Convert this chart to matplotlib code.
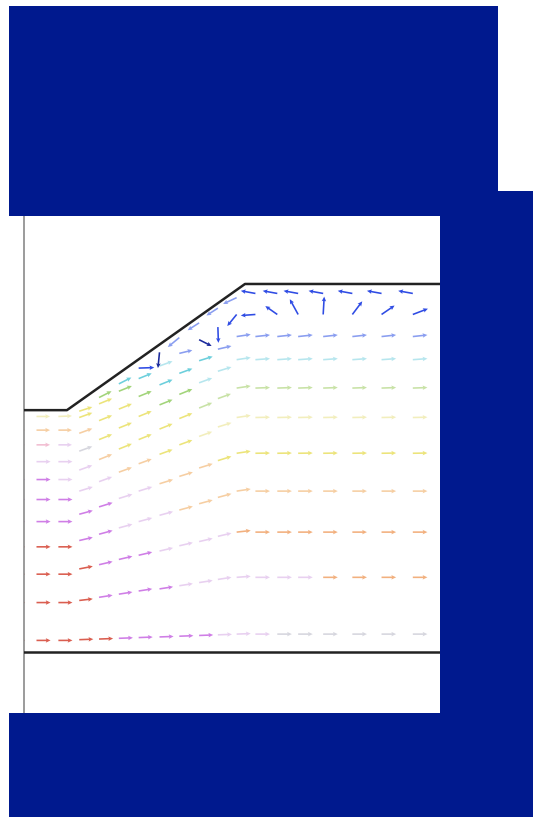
import matplotlib
matplotlib.use("Agg")
import matplotlib.pyplot as plt
from matplotlib.patches import Rectangle
import numpy as np

# slope geometry (m)
toe = (4.12, 23.0)
crest = (21.2, 35.0)
width = 40.5

# node columns (m) and node elevations per mesh row, bottom row first
x_cols = [0.0, 1.2, 3.3, 5.3, 7.2, 9.1, 11.0, 13.0, 14.9, 16.8, 18.6, 20.4,
          22.2, 24.3, 26.3, 28.7, 31.5, 34.3, 37.3]

y_rows = [
    [1.1, 1.1, 1.1, 1.17, 1.23, 1.3, 1.37, 1.43, 1.5, 1.57, 1.63, 1.7, 1.7, 1.7, 1.7, 1.7, 1.7, 1.7, 1.7],
    [4.7, 4.7, 4.7, 4.9, 5.2, 5.5, 5.8, 6.0, 6.3, 6.6, 6.9, 7.1, 7.1, 7.1, 7.1, 7.1, 7.1, 7.1, 7.1],
    [7.4, 7.4, 7.4, 7.9, 8.3, 8.8, 9.2, 9.6, 10.1, 10.5, 11.0, 11.4, 11.4, 11.4, 11.4, 11.4, 11.4, 11.4, 11.4],
    [10.0, 10.0, 10.0, 10.6, 11.2, 11.8, 12.4, 13.0, 13.5, 14.1, 14.7, 15.3, 15.3, 15.3, 15.3, 15.3, 15.3, 15.3, 15.3],
    [12.4, 12.4, 12.4, 13.1, 13.8, 14.6, 15.3, 16.0, 16.7, 17.5, 18.2, 18.9, 18.9, 18.9, 18.9, 18.9, 18.9, 18.9, 18.9],
    [14.5, 14.5, 14.5, 15.3, 16.2, 17.1, 17.9, 18.8, 19.7, 20.5, 21.4, 22.3, 22.3, 22.3, 22.3, 22.3, 22.3, 22.3, 22.3],
    [16.4, 16.4, 16.4, 17.3, 18.3, 19.3, 20.2, 21.2, 22.2, 23.2, 24.1, 25.1, 25.1, 25.1, 25.1, 25.1, 25.1, 25.1, 25.1],
    [18.1, 18.1, 18.1, 19.1, 20.2, 21.3, 22.4, 23.5, 24.5, 25.6, 26.7, 27.8, 27.8, 27.8, 27.8, 27.8, 27.8, 27.8, 27.8],
    [19.7, 19.7, 19.7, 20.8, 22.0, 23.1, 24.3, 25.4, 26.5, 27.7, 28.8, 30.0, 30.0, 30.0, 30.0, 30.0, 30.0, 30.0, 30.0],
    [21.1, 21.1, 21.1, 22.3, 23.6, 24.8, 26.0, 27.2, 28.4, 29.7, 30.9, 32.1, 32.1, 32.1, 32.1, 32.1, 32.1, 32.1, 32.1],
    [22.4, 22.4, 22.4, 22.9, 24.2, 25.5, 27.0, 28.5, 29.9, 31.3, 32.7, 33.7, 34.1, 34.1, 34.1, 34.1, 34.1, 34.1, 34.1],
]

# nodal vectors (m)
u_rows = [
    [0.05, 1.35, 1.35, 1.35, 1.35, 1.35, 1.35, 1.35, 1.35, 1.35, 1.35, 1.35, 1.4, 1.4, 1.4, 1.4, 1.4, 1.4, 1.4],
    [0.05, 1.35, 1.35, 1.3, 1.3, 1.3, 1.3, 1.3, 1.3, 1.3, 1.3, 1.35, 1.4, 1.4, 1.4, 1.4, 1.4, 1.4, 1.4],
    [0.05, 1.35, 1.35, 1.3, 1.3, 1.3, 1.3, 1.3, 1.3, 1.3, 1.3, 1.35, 1.4, 1.4, 1.4, 1.4, 1.4, 1.4, 1.4],
    [0.05, 1.35, 1.35, 1.3, 1.3, 1.3, 1.3, 1.3, 1.3, 1.3, 1.3, 1.35, 1.4, 1.4, 1.4, 1.4, 1.4, 1.4, 1.4],
    [0.05, 1.35, 1.35, 1.3, 1.3, 1.3, 1.3, 1.3, 1.3, 1.3, 1.3, 1.35, 1.4, 1.4, 1.4, 1.4, 1.4, 1.4, 1.4],
    [0.05, 1.35, 1.35, 1.3, 1.25, 1.25, 1.25, 1.25, 1.25, 1.25, 1.3, 1.35, 1.4, 1.4, 1.4, 1.4, 1.4, 1.4, 1.4],
    [0.05, 1.35, 1.35, 1.25, 1.25, 1.25, 1.25, 1.25, 1.25, 1.25, 1.25, 1.35, 1.4, 1.4, 1.4, 1.4, 1.4, 1.4, 1.4],
    [0.05, 1.35, 1.35, 1.25, 1.25, 1.25, 1.25, 1.25, 1.25, 1.25, 1.3, 1.35, 1.4, 1.4, 1.4, 1.4, 1.4, 1.4, 1.4],
    [0.05, 1.3, 1.3, 1.25, 1.25, 1.25, 1.25, 1.25, 1.25, 1.3, 1.3, 1.35, 1.4, 1.4, 1.4, 1.4, 1.4, 1.4, 1.4],
    [0.05, 1.3, 1.3, 1.25, 1.25, 1.25, 1.25, 1.25, 1.25, 1.2, 0.05, -0.9, -1.4, -1.15, -0.8, 0.1, 0.95, 1.25, 1.45],
    [0.05, 1.3, 1.3, 1.25, 1.2, 1.2, 1.5, -0.15, -1.1, -1.1, -1.1, -1.3, -1.4, -1.4, -1.4, -1.4, -1.4, -1.4, -1.4],
]

v_rows = [
    [0, 0, 0, 0.05, 0.05, 0.05, 0.05, 0.05, 0.05, 0.05, 0.05, 0.05, 0, 0, 0, 0, 0, 0, 0],
    [0, 0, 0, 0.15, 0.2, 0.2, 0.2, 0.2, 0.2, 0.2, 0.2, 0.1, 0, 0, 0, 0, 0, 0, 0],
    [0, 0, 0, 0.25, 0.3, 0.3, 0.3, 0.3, 0.3, 0.3, 0.3, 0.15, 0, 0, 0, 0, 0, 0, 0],
    [0, 0, 0, 0.3, 0.35, 0.35, 0.35, 0.35, 0.35, 0.35, 0.35, 0.2, 0, 0, 0, 0, 0, 0, 0],
    [0, 0, 0, 0.35, 0.4, 0.4, 0.4, 0.4, 0.4, 0.4, 0.4, 0.2, 0.02, 0.02, 0.02, 0.02, 0.02, 0.02, 0.02],
    [0, 0, 0, 0.4, 0.45, 0.45, 0.45, 0.45, 0.45, 0.45, 0.4, 0.2, 0.03, 0.03, 0.03, 0.03, 0.03, 0.03, 0.03],
    [0, 0, 0, 0.45, 0.5, 0.5, 0.5, 0.5, 0.5, 0.5, 0.45, 0.2, 0.05, 0.05, 0.05, 0.05, 0.05, 0.05, 0.05],
    [0, 0, 0, 0.45, 0.5, 0.5, 0.5, 0.5, 0.5, 0.45, 0.4, 0.2, 0.1, 0.1, 0.1, 0.1, 0.1, 0.1, 0.1],
    [0, 0, 0, 0.45, 0.5, 0.5, 0.5, 0.5, 0.45, 0.4, 0.3, 0.2, 0.15, 0.15, 0.15, 0.15, 0.15, 0.15, 0.15],
    [0, 0, 0, 0.45, 0.5, 0.5, 0.5, 0.45, 0.3, -0.6, -1.5, -1.1, -0.1, 0.8, 1.45, 1.7, 1.25, 0.85, 0.55],
    [0, 0, 0.05, 0.4, 0.6, 0.6, 0.05, -1.5, -0.9, -0.7, -0.7, -0.6, 0.25, 0.25, 0.25, 0.25, 0.25, 0.25, 0.25],
]

# arrow colour code per node
color_rows = [
    "rrrrrmmmmmPPPkkkkkk",
    "rrrrmmmmPPPPPPPoooo",
    "rrrrmmmPPPPoooooooo",
    "rrrmmPPPOOOOOOOOOOO",
    "mmmmmPPOOOyyyyyyyyy",
    "mmmPPOOyyYYYYYYYYYY",
    "mmPPOyyyyGGGGGGGGGG",
    "PPPkyyyggCCCCCCCCCC",
    "ppPOyygcccbbbbbbbbb",
    "OOOyygcCbNBBBBBBBBB",
    "YYYygcBNbbbbBBBBBBB",
]

palette = {
    "N": "#1b2a9c", "B": "#2f4ce4", "b": "#8a9ef0",
    "c": "#6ccfdc", "C": "#b6e6ee", "g": "#a2d47a", "G": "#c8e2a6",
    "y": "#ece47a", "Y": "#f2eebc", "O": "#f6cea2", "o": "#f2b07e",
    "p": "#f2bed2", "P": "#e8d0f0", "m": "#cf7ee6", "r": "#da5e50",
    "k": "#d6d6de",
}

X = np.tile(np.array(x_cols), (len(y_rows), 1))
Y = np.array(y_rows)
U = np.array(u_rows)
V = np.array(v_rows)
C = [palette[ch] for row in color_rows for ch in row]

fig = plt.figure(figsize=(5.33, 8.17), dpi=100)
ax = fig.add_axes([0.045, 0.1119, 0.7921, 0.6306])
ax.set_xlim(0, width)
ax.set_ylim(-7, 42)
ax.set_xticks([])
ax.set_yticks([])
for side in ["top", "right", "bottom"]:
    ax.spines[side].set_visible(False)
ax.spines["left"].set_color("#8a8a8a")
ax.spines["left"].set_linewidth(1.2)

ax.quiver(X.ravel(), Y.ravel(), U.ravel(), V.ravel(), color=C,
          angles="xy", scale_units="xy", scale=1, pivot="tail",
          width=0.0038, headwidth=2.8, headlength=3.0, headaxislength=2.6,
          zorder=2)

# ground surface and base of the model
ax.plot([0, toe[0], crest[0], width], [toe[1], toe[1], crest[1], crest[1]],
        color="#222222", lw=1.8, zorder=3)
ax.plot([0, width], [0, 0], color="#222222", lw=1.8, zorder=3)

# masking blocks
navy = "#00198e"
for x0, y0, w, h in [(0.0169, 0.7356, 0.9174, 0.2570),
                     (0.8255, 0.1224, 0.1745, 0.6438),
                     (0.0169, 0.0, 0.9831, 0.1273)]:
    fig.add_artist(Rectangle((x0, y0), w, h, transform=fig.transFigure,
                             facecolor=navy, edgecolor="none", zorder=5))

fig.savefig("out.png", dpi=100, facecolor="white")
